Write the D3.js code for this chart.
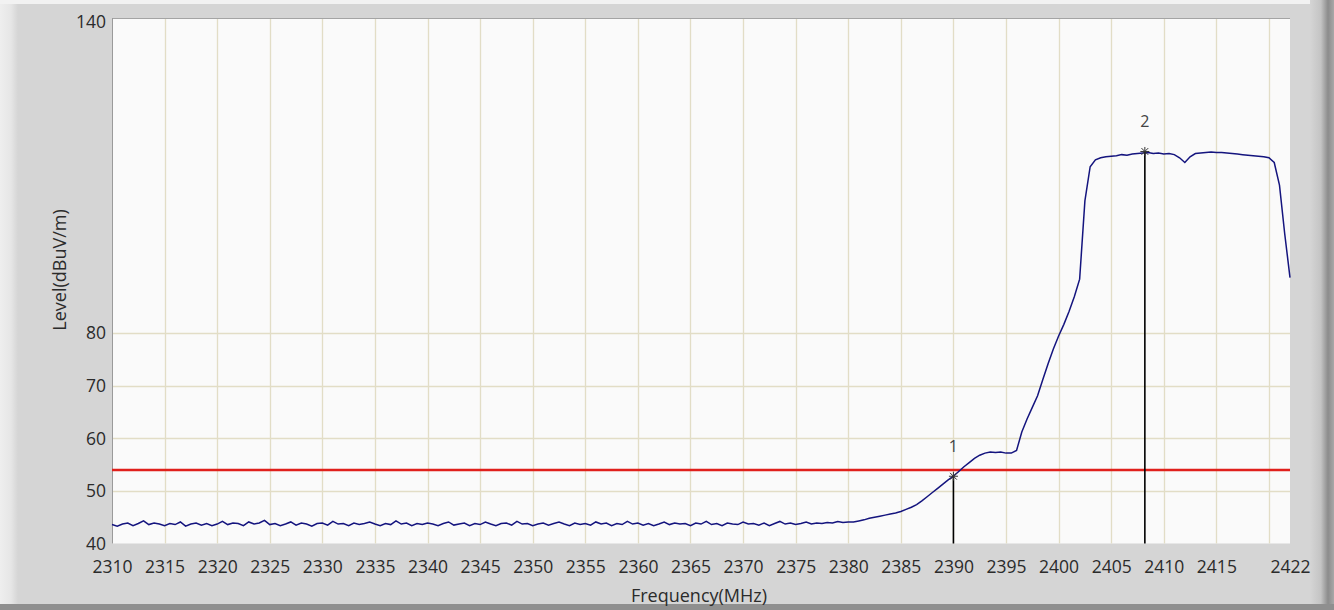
<!DOCTYPE html>
<html>
<head>
<meta charset="utf-8">
<script src="https://cdn.jsdelivr.net/npm/d3@7"></script>
<style>
  html, body { margin: 0; padding: 0; background: #d5d5d5; }
  svg { display: block; }
</style>
</head>
<body>
<svg id="chart" width="1334" height="610"></svg>
<script>
// ---------------- DATA ----------------
const sweepStart = 2310;      // MHz
const sweepStep = 0.5;        // MHz between samples
const levels = [
  // 2310 - 2379.5 noise floor
  43.6,43.3,43.7,43.9,43.4,43.8,44.3,43.6,43.9,43.7,
  43.4,43.8,43.6,44.1,43.3,43.7,43.9,43.5,43.8,43.4,
  43.7,44.2,43.6,43.9,43.8,43.4,44.1,43.7,43.9,44.4,
  43.6,43.8,43.4,43.7,44.1,43.5,43.9,43.7,43.3,43.8,
  43.9,43.5,44.2,43.7,43.8,43.4,43.9,43.6,43.8,44.1,
  43.7,43.4,43.8,43.6,44.3,43.7,43.9,43.4,43.8,43.6,
  43.9,43.7,43.4,43.8,44.1,43.5,43.7,43.9,43.4,43.8,
  43.6,44.1,43.7,43.4,43.8,43.9,43.5,44.2,43.7,43.8,
  43.4,43.7,43.9,43.5,43.8,44.1,43.7,43.4,43.9,43.6,
  43.8,43.5,44.1,43.7,43.9,43.4,43.8,43.6,44.2,43.7,
  43.9,43.5,43.8,43.4,43.7,44.1,43.6,43.9,43.7,43.8,
  43.4,43.9,43.7,44.2,43.6,43.8,43.4,43.9,43.7,43.6,
  44.1,43.7,43.8,43.5,43.9,43.4,43.8,44.2,43.7,43.9,
  43.6,43.8,44.1,43.7,43.9,43.8,44.0,43.9,44.2,44.0,
  // 2380 - 2422 band edge and carrier
  44.1,44.1,44.3,44.5,44.8,45.0,45.2,45.4,45.6,45.8,
  46.1,46.5,46.9,47.4,48.1,48.9,49.7,50.5,51.3,52.1,
  52.8,53.7,54.6,55.4,56.2,56.8,57.2,57.4,57.3,57.4,
  57.2,57.2,57.7,61.2,63.7,65.9,68.1,71.2,74.2,77.0,
  79.5,81.7,84.2,87.0,90.3,105.2,111.7,113.0,113.4,113.6,
  113.7,113.8,114.0,113.9,114.1,114.2,114.3,114.4,114.2,114.3,
  114.1,114.2,114.0,113.4,112.5,113.6,114.2,114.3,114.4,114.5,
  114.4,114.4,114.3,114.2,114.1,114.0,113.9,113.8,113.7,113.6,
  113.4,112.5,108.2,98.9,90.6
];
const limitLevel = 54;
const markerFreqs = [2390, 2408.2];
const markerLevels = [52.8, 114.6];
const markerLabels = ["1", "2"];
const xTickValues = [2310,2315,2320,2325,2330,2335,2340,2345,2350,2355,2360,2365,2370,2375,2380,2385,2390,2395,2400,2405,2410,2415,2422];
const xGridValues = [2315,2320,2325,2330,2335,2340,2345,2350,2355,2360,2365,2370,2375,2380,2385,2390,2395,2400,2405,2410,2415,2420];
const yTickValues = [40,50,60,70,80,140];
const yGridValues = [50,60,70,80];
const xTitle = "Frequency(MHz)";
const yTitle = "Level(dBuV/m)";

// ---------------- LAYOUT ----------------
const W = 1334, H = 610;
const L = 112, R = 1290, T = 18, B = 543.5;
const svg = d3.select("#chart");
const fontFam = "'Open Sans', 'Noto Sans', 'DejaVu Sans', sans-serif";

// panel background & frame
const defs = svg.append("defs");
const gL = defs.append("linearGradient").attr("id", "gLeft").attr("x1", 0).attr("x2", 1);
gL.append("stop").attr("offset", 0).attr("stop-color", "#eeeeee");
gL.append("stop").attr("offset", 0.6).attr("stop-color", "#e6e6e6");
gL.append("stop").attr("offset", 1).attr("stop-color", "#d5d5d5");
const gR = defs.append("linearGradient").attr("id", "gRight").attr("x1", 0).attr("x2", 1);
gR.append("stop").attr("offset", 0).attr("stop-color", "#d5d5d5");
gR.append("stop").attr("offset", 0.45).attr("stop-color", "#c4c4c4");
gR.append("stop").attr("offset", 0.75).attr("stop-color", "#8c8c8c");
gR.append("stop").attr("offset", 1).attr("stop-color", "#a8a8a8");

svg.append("rect").attr("x", 0).attr("y", 0).attr("width", W).attr("height", H).attr("fill", "#d5d5d5");
svg.append("rect").attr("x", 0).attr("y", 0).attr("width", 18).attr("height", H).attr("fill", "url(#gLeft)");
svg.append("rect").attr("x", 0).attr("y", 0).attr("width", W).attr("height", 4).attr("fill", "#f2f2f2");
svg.append("rect").attr("x", 1310).attr("y", 0).attr("width", 24).attr("height", H).attr("fill", "url(#gRight)");
svg.append("rect").attr("x", 0).attr("y", 604).attr("width", W).attr("height", 6).attr("fill", "#8f8f8f");

// scales
const x = d3.scaleLinear().domain([2310, 2422]).range([L, R]);
const y = d3.scaleLinear().domain([40, 140]).range([B, T]);

// plot background
svg.append("rect").attr("x", L).attr("y", T).attr("width", R - L).attr("height", B - T).attr("fill", "#fafafa");

// grid
const grid = svg.append("g");
grid.selectAll("line.vx").data(xGridValues).join("line")
  .attr("x1", d => Math.round(x(d)) + 0.5).attr("x2", d => Math.round(x(d)) + 0.5)
  .attr("y1", T).attr("y2", B)
  .attr("stroke", "#e2ddc6").attr("stroke-width", 1.3);
grid.selectAll("line.hy").data(yGridValues).join("line")
  .attr("x1", L).attr("x2", R)
  .attr("y1", d => Math.round(y(d)) + 0.5).attr("y2", d => Math.round(y(d)) + 0.5)
  .attr("stroke", "#e2ddc6").attr("stroke-width", 1.3);

// borders (top and left)
svg.append("line").attr("x1", L).attr("x2", R).attr("y1", T + 0.5).attr("y2", T + 0.5).attr("stroke", "#a4a4a4");
svg.append("line").attr("x1", L + 0.5).attr("x2", L + 0.5).attr("y1", T).attr("y2", B).attr("stroke", "#9a9a9a");

// axes
const xAxis = d3.axisBottom(x).tickValues(xTickValues).tickSize(0).tickPadding(17).tickFormat(d3.format("d"));
const gx = svg.append("g").attr("transform", `translate(0,${B})`).call(xAxis);
gx.select(".domain").remove();
gx.selectAll("text").attr("font-family", fontFam).attr("font-size", 17.5).attr("fill", "#2b2b2b");

const yAxis = d3.axisLeft(y).tickValues(yTickValues).tickSize(0).tickPadding(6).tickFormat(d3.format("d"));
const gy = svg.append("g").attr("transform", `translate(${L},0)`).call(yAxis);
gy.select(".domain").remove();
gy.selectAll("text").attr("font-family", fontFam).attr("font-size", 17.5).attr("fill", "#2b2b2b");
gy.selectAll(".tick").filter(d => d === 140).select("text").attr("dy", "0.52em");

// titles
svg.append("text").attr("x", 699).attr("y", 602).attr("text-anchor", "middle")
  .attr("font-family", fontFam).attr("font-size", 18).attr("fill", "#2b2b2b").text(xTitle);
svg.append("text").attr("transform", "translate(66,270) rotate(-90)").attr("text-anchor", "middle")
  .attr("font-family", fontFam).attr("font-size", 18).attr("fill", "#2b2b2b").text(yTitle);

// limit line
svg.append("line").attr("x1", L).attr("x2", R).attr("y1", y(limitLevel)).attr("y2", y(limitLevel))
  .attr("stroke", "#e0201c").attr("stroke-width", 2.6);

// trace
const trace = levels.map((v, i) => [sweepStart + i * sweepStep, v]);
const line = d3.line().x(d => x(d[0])).y(d => y(d[1]));
svg.append("path").datum(trace).attr("d", line)
  .attr("fill", "none").attr("stroke", "#14147e").attr("stroke-width", 1.5).attr("stroke-linejoin", "miter");

// markers
const mk = svg.append("g");
markerFreqs.forEach((f, i) => {
  const mx = x(f), my = y(markerLevels[i]);
  mk.append("line").attr("x1", mx).attr("x2", mx).attr("y1", my).attr("y2", B)
    .attr("stroke", "#000").attr("stroke-width", 1.6);
  const s = 4.5;
  [[-s, 0, s, 0], [0, -s, 0, s], [-s * 0.75, -s * 0.75, s * 0.75, s * 0.75], [-s * 0.75, s * 0.75, s * 0.75, -s * 0.75]]
    .forEach(c => mk.append("line").attr("x1", mx + c[0]).attr("y1", my + c[1]).attr("x2", mx + c[2]).attr("y2", my + c[3])
      .attr("stroke", "#333").attr("stroke-width", 1));
  mk.append("text").attr("x", mx).attr("y", my - 24).attr("text-anchor", "middle")
    .attr("font-family", fontFam).attr("font-size", 16).attr("fill", "#444").text(markerLabels[i]);
});
</script>
</body>
</html>
